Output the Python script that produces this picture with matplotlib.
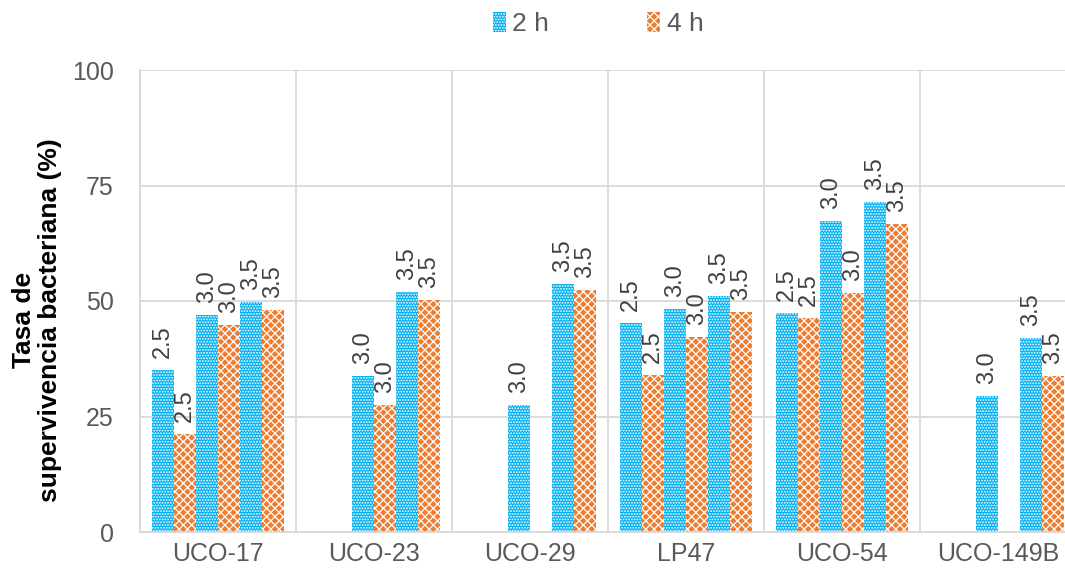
import numpy as np
import matplotlib.pyplot as plt
from matplotlib.patches import Patch

plt.rcParams["font.family"] = ["Liberation Sans", "DejaVu Sans"]
plt.rcParams["hatch.linewidth"] = 0.9

cepas = ["UCO-17", "UCO-23", "UCO-29", "LP47", "UCO-54", "UCO-149B"]
ph_labels = ["2.5", "3.0", "3.5"]

# supervivencia (%) por cepa, orden pH 2.5, 3.0, 3.5 (None = sin dato)
surv_2h = [
    [35.1, 47.0, 49.8],
    [None, 33.8, 51.9],
    [None, 27.5, 53.6],
    [45.3, 48.3, 51.0],
    [47.5, 67.4, 71.4],
    [None, 29.5, 42.0],
]
surv_4h = [
    [21.2, 44.8, 48.1],
    [None, 27.5, 50.2],
    [None, None, 52.4],
    [34.0, 42.2, 47.6],
    [46.4, 51.8, 66.7],
    [None, None, 33.8],
]

c2 = "#00B0F0"
c4 = "#ED7D31"
grey = "#595959"
grid_c = "#D9D9D9"
h2 = "......"
h4 = "xxxx"

fig = plt.figure(figsize=(10.65, 5.71), dpi=100)
ax = fig.add_axes([140 / 1065, 39 / 571, 936 / 1065, 462 / 571])

bw = 0.1417
start = 0.075
for i in range(len(cepas)):
    for j in range(3):
        for k, (data, col) in enumerate([(surv_2h, c2), (surv_4h, c4)]):
            v = data[i][j]
            if v is None:
                continue
            x = i + start + (2 * j + k + 0.5) * bw
            ax.bar(x, v, width=bw, color=col, edgecolor="white", hatch=h2 if k == 0 else h4,
                   linewidth=0, zorder=2)
            ax.text(x, v + 2.6, ph_labels[j], rotation=90, ha="center", va="bottom",
                    fontsize=17, color="#404040", zorder=3)

ax.set_xlim(0, 6)
ax.set_ylim(0, 100)
ax.set_yticks([0, 25, 50, 75, 100])
ax.set_xticks(np.arange(6) + 0.5)
ax.set_xticklabels(cepas)
ax.set_xticks(np.arange(7), minor=True)
ax.tick_params(axis="both", which="both", length=0, colors=grey, labelsize=18)
ax.tick_params(axis="y", pad=19)
ax.tick_params(axis="x", pad=7)
ax.grid(axis="y", color=grid_c, linewidth=1.3, zorder=0)
ax.grid(axis="x", which="minor", color=grid_c, linewidth=1.3, zorder=0)
for s in ["top", "right"]:
    ax.spines[s].set_visible(False)
for s in ["left", "bottom"]:
    ax.spines[s].set_color(grid_c)
    ax.spines[s].set_linewidth(1.3)

ax.set_ylabel("Tasa de\nsupervivencia bacteriana (%)", fontsize=19,
              fontweight="bold", color="black", linespacing=1.1)
ax.yaxis.set_label_coords(-0.083, 0.459)

handles = [
    Patch(facecolor=c2, edgecolor="white", hatch=h2, linewidth=0, label="2 h"),
    Patch(facecolor=c4, edgecolor="white", hatch=h4, linewidth=0, label="4 h"),
]
leg = fig.legend(handles=handles, loc="center", bbox_to_anchor=(598 / 1065, 1 - 24 / 571),
                 ncol=2, frameon=False, fontsize=19, handlelength=0.5, handleheight=0.8,
                 handletextpad=0.25, columnspacing=3.7)
for t in leg.get_texts():
    t.set_color(grey)

fig.savefig("out.png", dpi=100)
